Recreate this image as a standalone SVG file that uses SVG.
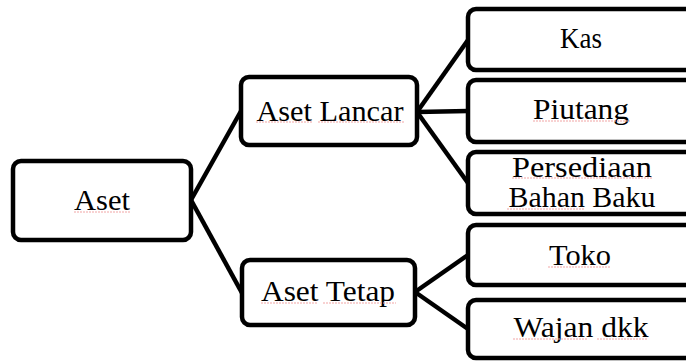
<svg xmlns="http://www.w3.org/2000/svg" width="686" height="361" viewBox="0 0 686 361">
<style>
.box{fill:#fff;stroke:#000;stroke-width:4.5}
.lbl{font-family:"Liberation Serif","Times New Roman",serif;font-size:30px;fill:#000;text-anchor:middle}
.conn line{stroke:#000;stroke-width:4.5;stroke-linecap:butt}
.sp{stroke:#f2a5a5;stroke-width:1.2;stroke-dasharray:2 1}
</style>
<rect width="686" height="361" fill="#fff"/>
<g class="conn" id="connectors">
<line x1="191" y1="200" x2="241" y2="111"/>
<line x1="191" y1="200" x2="242" y2="293"/>
<line x1="417" y1="112" x2="468" y2="40"/>
<line x1="417" y1="112" x2="468" y2="111"/>
<line x1="417" y1="112" x2="468" y2="183"/>
<line x1="415" y1="292" x2="468" y2="255"/>
<line x1="415" y1="292" x2="468" y2="329"/>
</g>
<g id="aset"><rect class="box" x="13" y="161" width="178" height="79" rx="8"/><text class="lbl" x="102" y="210" textLength="56" lengthAdjust="spacingAndGlyphs">Aset</text><line class="sp" x1="74" y1="212" x2="130" y2="212"/></g>
<g id="aset-lancar"><rect class="box" x="241" y="77" width="176" height="68" rx="8"/><text class="lbl" x="330" y="121" textLength="147" lengthAdjust="spacingAndGlyphs">Aset Lancar</text><line class="sp" x1="256" y1="122" x2="312" y2="122"/><line class="sp" x1="318" y1="122" x2="404" y2="122"/></g>
<g id="aset-tetap"><rect class="box" x="242" y="260" width="173" height="65" rx="8"/><text class="lbl" x="328" y="301" textLength="134" lengthAdjust="spacingAndGlyphs">Aset Tetap</text><line class="sp" x1="261" y1="303" x2="317" y2="303"/><line class="sp" x1="323" y1="303" x2="396" y2="303"/></g>
<g id="kas"><rect class="box" x="468" y="9" width="226" height="61" rx="8"/><text class="lbl" x="581" y="48" textLength="42" lengthAdjust="spacingAndGlyphs">Kas</text></g>
<g id="piutang"><rect class="box" x="468" y="80" width="226" height="62" rx="8"/><text class="lbl" x="581" y="119" textLength="96" lengthAdjust="spacingAndGlyphs">Piutang</text><line class="sp" x1="533" y1="121" x2="630" y2="121"/></g>
<g id="persediaan"><rect class="box" x="468" y="152" width="226" height="62" rx="8"/><text class="lbl" x="582" y="177" textLength="140" lengthAdjust="spacingAndGlyphs">Persediaan</text><text class="lbl" x="582" y="207" textLength="147" lengthAdjust="spacingAndGlyphs">Bahan Baku</text><line class="sp" x1="512" y1="178" x2="652" y2="178"/><line class="sp" x1="507" y1="209" x2="585" y2="209"/></g>
<g id="toko"><rect class="box" x="468" y="225" width="226" height="60" rx="8"/><text class="lbl" x="580" y="265" textLength="62" lengthAdjust="spacingAndGlyphs">Toko</text><line class="sp" x1="548" y1="267" x2="611" y2="267"/></g>
<g id="wajan"><rect class="box" x="468" y="300" width="226" height="58" rx="8"/><text class="lbl" x="581" y="337" textLength="135" lengthAdjust="spacingAndGlyphs">Wajan dkk</text><line class="sp" x1="513" y1="339" x2="587" y2="339"/><line class="sp" x1="597" y1="339" x2="648" y2="339"/></g>
</svg>
